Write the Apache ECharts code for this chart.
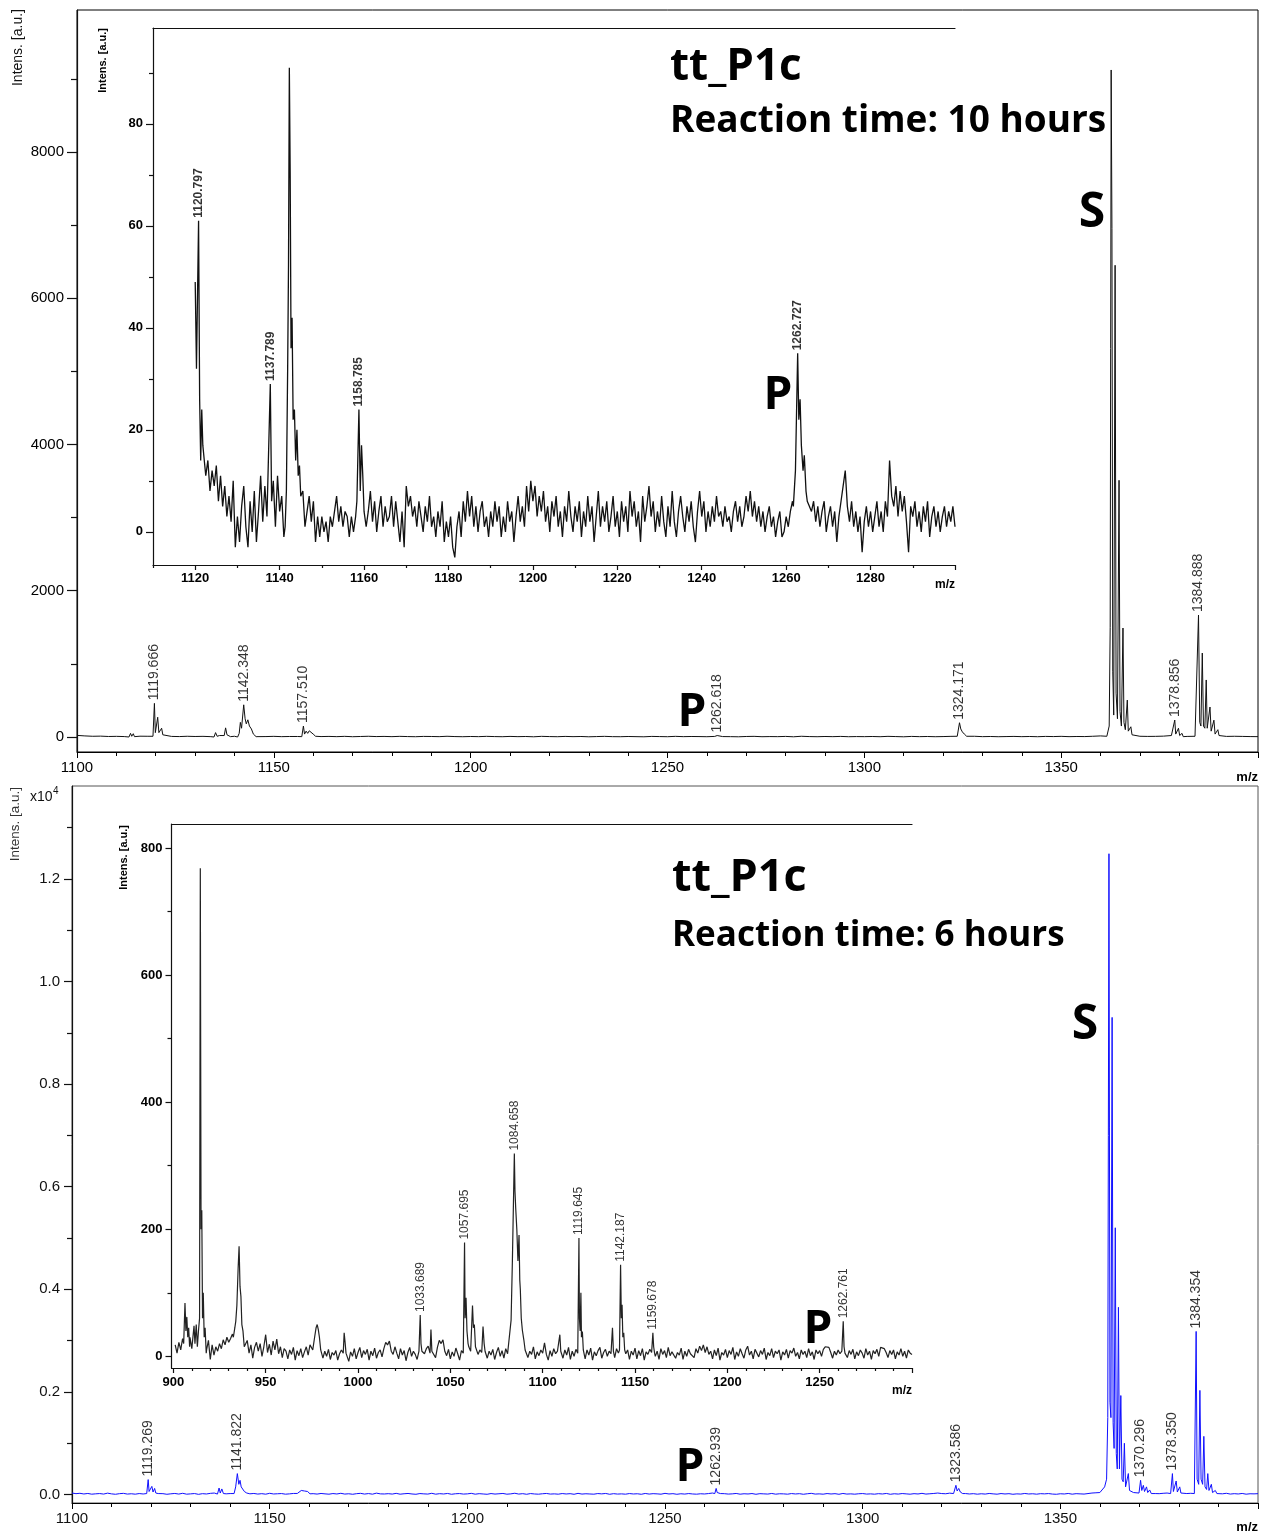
<!DOCTYPE html>
<html>
<head>
<meta charset="utf-8">
<script src="https://cdn.jsdelivr.net/npm/echarts@6/dist/echarts.min.js"></script>
<style>
  html, body { margin: 0; padding: 0; background: #fff; }
  #chart { width: 1262px; height: 1532px; }
</style>
</head>
<body>
<div id="chart"></div>
<script>
// ---------- 10 h spectrum, full range (baseline samples + peak profiles) ----------
const topMainStart = 1100, topMainStep = 2;
const topMainNoise = [
  22,15,10,12,7,9,6,8,11,10,
  40,12,8,6,10,7,9,5,8,12,
  10,30,40,8,6,9,5,7,7,20,
  12,6,8,5,9,4,7,10,6,8,
  5,9,6,4,8,7,5,10,6,4,
  7,5,9,6,4,8,5,7,3,9,
  6,4,8,5,7,3,6,9,5,4,
  7,5,3,8,6,4,9,5,7,6,
  4,8,6,5,3,7,9,4,6,5,
  8,3,10,6,4,7,5,8,4,6,
  5,7,4,9,6,3,8,5,7,4,
  6,9,8,14,10,5,7,4,6,8,
  5,7,4,8,6,9,5,7,6,10,
  15,30,40,60,30,10,8,9,12,20,
  25,8,10,20,60,30,8,10,8,6,
  5
];
const topMainPeaks = [
  [[1113.2,0],[1113.6,50],[1113.9,10],[1114.3,45],[1114.6,5]],
  [[1119.3,10],[1119.666,460],[1119.9,60],[1120.2,40],[1120.5,270],[1120.8,60],[1121.1,50],[1121.5,120],[1121.8,30],[1122.2,5]],
  [[1134.8,0],[1135.2,60],[1135.6,10],[1136.2,20],[1137.4,20],[1137.75,125],[1138.1,30],[1138.6,50],[1139.0,5]],
  [[1140.8,0],[1141.2,50],[1141.5,200],[1141.8,120],[1142.348,440],[1142.7,250],[1143.0,180],[1143.4,235],[1143.8,150],[1144.3,110],[1144.8,40],[1145.5,5]],
  [[1157.1,5],[1157.51,150],[1157.8,40],[1158.2,80],[1158.6,50],[1159.0,85],[1159.5,60],[1160.0,40],[1160.6,10]],
  [[1262.3,0],[1262.618,20],[1262.9,0]],
  [[1323.6,10],[1324.171,195],[1324.5,110],[1324.9,70],[1325.4,40],[1326.0,10]],
  [[1361.6,10],[1362.2,150],[1362.45,1500],[1362.7,9120],[1362.9,6950],[1363.1,900],[1363.35,300],[1363.7,6450],[1363.95,600],[1364.3,250],[1364.7,3510],[1364.95,350],[1365.3,150],[1365.7,1490],[1365.95,200],[1366.3,100],[1366.8,505],[1367.05,80],[1367.3,60],[1367.7,140],[1368.0,30],[1368.5,10]],
  [[1378.5,5],[1378.856,232],[1379.1,40],[1379.5,20],[1379.8,120],[1380.1,20],[1380.7,50],[1381.0,5]],
  [[1384.4,10],[1384.888,1668],[1385.2,200],[1385.5,150],[1385.85,1148],[1386.15,150],[1386.5,120],[1386.85,780],[1387.1,120],[1387.45,100],[1387.8,410],[1388.1,80],[1388.45,60],[1388.8,230],[1389.1,40],[1389.5,30],[1389.8,100],[1390.1,20],[1390.6,5]]
];
const topMainLabels = [1119.666, 1142.348, 1157.51, 1262.618, 1324.171, 1378.856, 1384.888];

// ---------- 10 h spectrum, zoomed low-intensity region ----------
const topInsetStart = 1122, topInsetStep = 0.5;
const topInsetNoise = [
  17,11,14,8,12,9,13,6,11,5,9,3,7,2,10,-3,3,-2,5,9,
  1,-3,6,0,8,-2,4,11,2,9,3,10,8,10,1,11,4,7,-1,6,
  40,60,35,24,20,12,8,7,1,4,7,2,6,-2,3,-1,3,0,2,-2,
  3,1,4,7,2,5,1,4,3,-1,3,0,3,10,20,16,5,1,4,8,
  2,6,0,4,7,1,5,2,3,7,1,6,2,-2,4,-3,9,5,7,3,
  5,1,6,3,0,5,2,7,1,3,-1,4,1,6,-2,2,-1,3,-3,-5,
  1,4,-1,6,2,8,3,7,1,5,0,4,6,1,3,-1,4,1,6,2,
  5,-1,3,0,6,2,4,-2,3,7,2,5,1,9,4,10,6,9,3,7,
  4,8,2,5,0,6,3,7,1,4,-1,5,2,8,3,0,5,2,6,-1,
  4,1,7,2,5,-2,3,8,1,5,2,6,0,3,7,1,4,-1,6,2,
  5,0,8,3,6,1,4,-2,7,2,5,9,3,6,0,4,1,7,2,-1,
  5,1,8,2,-1,4,7,3,0,5,2,6,1,-2,4,8,3,6,0,4,
  1,5,2,7,3,4,1,5,2,3,0,4,6,2,5,1,3,7,4,8,
  3,6,2,5,1,4,0,3,5,1,3,-1,2,4,-1,0,3,1,4,6,
  20,30,25,18,14,15,8,5,4,6,2,5,1,4,6,0,3,5,1,4,
  -2,3,6,9,12,5,2,6,1,4,0,3,-4,2,5,1,4,0,3,6,
  1,4,0,6,3,14,7,5,9,3,8,4,7,2,-4,5,3,6,1,4,
  0,5,2,6,-1,3,5,1,4,0,3,5,1,4,2,5,1
];
const topInsetPeaks = [
  [[1120.0,49],[1120.3,32],[1120.797,61],[1121.05,26],[1121.3,14],[1121.55,24],[1121.8,17]],
  [[1137.4,3],[1137.789,29],[1138.1,6]],
  [[1141.3,1],[1141.6,8],[1141.9,32],[1142.1,52],[1142.3,91],[1142.5,70],[1142.7,36],[1142.95,42],[1143.2,22],[1143.5,24],[1143.8,14],[1144.1,20],[1144.4,11],[1144.7,13],[1145.0,7],[1145.5,8],[1146.0,1]],
  [[1158.3,6],[1158.785,24],[1159.1,8],[1159.4,17],[1159.7,11],[1160.0,4]],
  [[1261.7,5],[1262.2,12],[1262.727,35],[1263.0,22],[1263.3,26],[1263.6,17],[1264.0,12],[1264.3,15],[1264.7,8],[1265.0,6]]
];
const topInsetLabels = [1120.797, 1137.789, 1158.785, 1262.727];

// ---------- 6 h spectrum, full range ----------
const lowMainStart = 1100, lowMainStep = 1;
const lowMainNoise = [
  30,18,25,12,22,8,15,20,10,28,14,6,18,24,10,16,8,20,12,30,
  40,20,12,18,6,15,22,10,25,8,14,20,5,18,12,24,30,60,50,15,
  20,100,300,200,40,15,22,10,18,8,25,12,16,20,8,14,22,22,80,70,
  30,18,10,22,14,8,20,12,25,10,16,6,18,24,10,20,8,28,14,12,
  18,10,24,8,16,22,12,6,20,14,10,25,8,18,12,22,6,16,20,10,
  14,24,8,18,12,6,20,10,16,22,8,14,26,10,18,6,20,12,8,16,
  22,10,14,8,20,12,18,6,24,10,16,12,8,20,14,22,6,18,10,14,
  8,20,12,16,6,22,10,18,14,8,24,12,18,6,16,10,20,12,8,16,
  12,20,30,80,40,18,10,14,22,8,16,12,20,6,18,14,10,22,8,16,
  14,8,20,12,18,6,16,24,10,14,8,20,12,18,6,22,10,14,8,16,
  20,10,14,8,18,12,22,6,16,10,20,14,8,18,12,24,10,16,22,30,
  20,16,28,20,120,40,20,12,18,8,16,10,22,14,8,20,12,18,6,14,
  10,22,12,16,8,18,14,20,10,6,16,12,22,8,18,14,10,20,30,35,
  40,600,8000,6000,3000,1500,600,300,100,40,200,150,90,30,20,18,25,30,200,150,
  100,30,20,25,1000,1500,800,300,150,60,20,15,25,10,18,12,22,8,16,14,
  18
];
const lowMainPeaks = [
  [[1118.9,20],[1119.269,292],[1119.5,60],[1119.8,40],[1120.2,160],[1120.5,50],[1120.9,120],[1121.2,30],[1121.8,20]],
  [[1136.8,10],[1137.2,128],[1137.5,30],[1137.9,110],[1138.3,20]],
  [[1141.0,20],[1141.4,150],[1141.822,409],[1142.2,200],[1142.5,278],[1142.8,150],[1143.2,136],[1143.6,60],[1144.2,30]],
  [[1157.5,20],[1158.0,80],[1158.4,97],[1158.8,70],[1159.2,95],[1159.6,60],[1160.2,15]],
  [[1262.6,20],[1262.939,120],[1263.2,40],[1263.6,70],[1264.0,20]],
  [[1323.2,20],[1323.586,181],[1323.9,70],[1324.3,120],[1324.7,50],[1325.3,20]],
  [[1360.5,40],[1361.2,150],[1361.7,300],[1362.0,1500],[1362.3,12490],[1362.55,1800],[1362.8,1500],[1363.1,9300],[1363.35,1400],[1363.6,900],[1363.9,5200],[1364.15,800],[1364.4,500],[1364.7,3650],[1364.95,500],[1365.3,1930],[1365.6,300],[1365.9,250],[1366.2,1000],[1366.5,150],[1366.9,120],[1367.2,410],[1367.5,80],[1368.0,60],[1368.5,40]],
  [[1369.9,30],[1370.296,278],[1370.6,80],[1371.0,180],[1371.3,60],[1371.8,150],[1372.1,40],[1372.6,90],[1373.0,20]],
  [[1377.9,20],[1378.35,409],[1378.6,60],[1379.0,40],[1379.3,265],[1379.6,50],[1380.2,150],[1380.5,30],[1381.0,20]],
  [[1383.9,20],[1384.354,3180],[1384.6,300],[1385.0,200],[1385.3,2031],[1385.6,300],[1386.0,200],[1386.3,1135],[1386.6,150],[1387.0,100],[1387.3,409],[1387.6,80],[1388.0,60],[1388.2,200],[1388.5,40],[1389.2,80],[1389.6,20]]
];
const lowMainLabels = [1119.269, 1141.822, 1262.939, 1323.586, 1370.296, 1378.35, 1384.354];

// ---------- 6 h spectrum, zoomed low-intensity region ----------
const lowInsetStart = 901, lowInsetStep = 1;
const lowInsetNoise = [
  18,5,22,10,28,60,45,55,30,12,
  40,35,30,400,200,80,40,10,25,-5,
  18,2,15,8,20,12,26,18,30,22,
  28,35,50,80,150,120,60,20,12,25,
  5,18,-3,14,22,8,20,0,15,34,
  6,19,2,24,10,27,4,15,-2,12,
  8,-4,10,3,14,-6,9,1,12,-2,
  7,15,2,18,20,35,45,48,30,10,
  -3,8,0,11,-5,6,2,9,-6,4,
  10,25,30,5,-8,7,0,12,-4,6,
  14,-2,9,3,11,-6,8,1,13,-3,
  6,10,-1,12,22,18,24,8,3,15,
  5,-4,12,2,9,-7,6,14,0,8,
  3,-5,8,55,10,4,12,16,30,6,
  9,-2,14,25,20,26,8,1,11,-4,
  7,0,13,4,-6,9,5,120,60,15,
  8,70,45,12,3,10,6,25,5,-3,
  8,2,11,-5,6,14,0,9,-3,12,
  4,10,57,250,250,200,180,100,40,20,
  12,-2,8,3,15,-4,7,1,10,5,
  21,3,-6,9,0,12,4,8,25,6,
  -3,10,2,14,-5,8,0,11,5,80,
  35,8,-4,10,2,13,-6,7,1,9,
  14,-3,6,11,0,8,4,20,-2,12,
  5,100,70,25,4,10,-5,8,2,13,
  -4,9,1,12,-6,7,3,11,6,10,
  0,8,-5,12,3,9,-2,14,1,7,
  10,-3,6,2,13,-5,8,0,11,4,
  7,-2,12,5,16,9,18,6,15,3,
  8,-4,10,1,13,-6,6,2,11,-2,
  9,3,14,-5,7,0,12,4,-3,10,
  16,2,8,-4,11,5,-1,9,3,13,
  -5,6,1,12,-2,8,4,10,-6,7,
  2,11,-3,9,5,13,0,6,-4,10,
  3,8,-2,12,1,7,-5,10,4,9,
  0,11,15,18,14,6,-3,8,2,10,
  4,8,15,6,-2,9,3,11,-4,7,
  1,10,5,-3,12,2,8,-5,9,4,
  11,0,14,16,12,6,-2,9,3,10,
  -4,7,2,12,0,8,-3,10,5,3
];
const lowInsetPeaks = [
  [[905.6,20],[906.3,84],[906.8,40],[907.3,62],[907.8,30],[908.3,45],[908.8,15]],
  [[910.5,10],[911.2,48],[911.7,20],[912.4,50],[913.0,15],[913.6,40],[914.2,60],[914.6,768],[915.0,200],[915.4,230],[915.8,60],[916.2,100],[916.7,30],[917.2,45],[917.8,5]],
  [[932.5,30],[933.3,45],[933.8,55],[934.4,80],[935.1,140],[935.6,173],[936.1,110],[936.6,94],[937.1,50],[937.7,40],[938.4,15]],
  [[975.5,10],[976.5,30],[977.3,45],[977.9,50],[978.5,42],[979.1,30],[979.8,10]],
  [[992.0,5],[992.5,37],[993.0,22],[993.5,5]],
  [[1033.2,5],[1033.689,65],[1034.1,20],[1034.6,8]],
  [[1039.0,5],[1039.5,42],[1040.0,8]],
  [[1057.2,5],[1057.695,179],[1058.0,60],[1058.5,92],[1059.0,40],[1059.6,20]],
  [[1061.4,10],[1062.0,80],[1062.5,45],[1063.0,50],[1063.6,15]],
  [[1067.2,5],[1067.7,47],[1068.3,20],[1068.8,8]],
  [[1082.0,5],[1082.9,57],[1083.6,150],[1084.658,319],[1085.0,260],[1085.4,233],[1086.0,200],[1086.6,150],[1087.2,191],[1087.6,120],[1087.9,105],[1088.4,60],[1089.0,41],[1089.8,26],[1090.5,10]],
  [[1108.9,5],[1109.3,34],[1109.8,8]],
  [[1119.2,8],[1119.645,186],[1119.9,60],[1120.3,40],[1120.7,100],[1121.0,30],[1121.5,39],[1122.0,10]],
  [[1137.3,5],[1137.8,45],[1138.3,8]],
  [[1141.6,10],[1142.187,144],[1142.6,60],[1143.0,81],[1143.4,30],[1143.9,37],[1144.4,10]],
  [[1159.2,5],[1159.678,37],[1160.1,15],[1160.6,5]],
  [[1262.3,5],[1262.761,55],[1263.2,15],[1263.7,5]]
];
const lowInsetLabels = [1033.689, 1057.695, 1084.658, 1119.645, 1142.187, 1159.678, 1262.761];

// ---------- tick positions ----------
const topMainYTicks = [0, 2000, 4000, 6000, 8000];
const topMainYMinor = [1000, 3000, 5000, 7000, 9000];
const topInsetXMajor = [1120, 1140, 1160, 1180, 1200, 1220, 1240, 1260, 1280, 1300];
const topInsetXLabels = [1120, 1140, 1160, 1180, 1200, 1220, 1240, 1260, 1280];
const topInsetXMinor = [1110, 1130, 1150, 1170, 1190, 1210, 1230, 1250, 1270, 1290];
const topInsetYTicks = [0, 20, 40, 60, 80];
const topInsetYMinor = [10, 30, 50, 70, 90];
const lowMainYTicks = [0, 2000, 4000, 6000, 8000, 10000, 12000];
const lowMainYMinor = [1000, 3000, 5000, 7000, 9000, 11000, 13000];
const lowInsetXMajor = [900, 950, 1000, 1050, 1100, 1150, 1200, 1250, 1300];
const lowInsetXLabels = [900, 950, 1000, 1050, 1100, 1150, 1200, 1250];
const lowInsetXMinor = [910, 920, 930, 940, 960, 970, 980, 990, 1010, 1020, 1030, 1040, 1060, 1070, 1080, 1090,
  1110, 1120, 1130, 1140, 1160, 1170, 1180, 1190, 1210, 1220, 1230, 1240, 1260, 1270, 1280, 1290];
const lowInsetYTicks = [0, 200, 400, 600, 800];
const lowInsetYMinor = [100, 300, 500, 700];

// Merge evenly spaced baseline samples with the hand-read peak profiles.
// Baseline samples that fall inside a peak profile's span are left out.
function buildTrace(start, step, noise, peaks) {
  const spans = peaks.map(p => [p[0][0], p[p.length - 1][0]]);
  const pts = [];
  noise.forEach((v, i) => {
    const x = +(start + i * step).toFixed(3);
    if (!spans.some(s => x >= s[0] && x <= s[1])) pts.push([x, v]);
  });
  peaks.forEach(p => p.forEach(q => pts.push([q[0], q[1]])));
  pts.sort((a, b) => a[0] - b[0]);
  return pts;
}
// Label anchors are the trace vertices with the annotated m/z.
function labelPoints(trace, mzList) {
  return mzList.map(m => trace.find(p => p[0] === m)).filter(Boolean);
}

const topMainTrace = buildTrace(topMainStart, topMainStep, topMainNoise, topMainPeaks);
const topInsetTrace = buildTrace(topInsetStart, topInsetStep, topInsetNoise, topInsetPeaks);
const lowMainTrace = buildTrace(lowMainStart, lowMainStep, lowMainNoise, lowMainPeaks);
const lowInsetTrace = buildTrace(lowInsetStart, lowInsetStep, lowInsetNoise, lowInsetPeaks);

const FONT = 'Liberation Sans';
const plain = v => String(v);

function labelSeries(xi, yi, pts, size, weight, color) {
  return {
    type: 'scatter', xAxisIndex: xi, yAxisIndex: yi, data: pts,
    symbol: 'circle', symbolSize: 0, silent: true, z: 5,
    label: {
      show: true, position: 'top', distance: 3, rotate: 90,
      align: 'left', verticalAlign: 'middle',
      formatter: p => p.value[0].toFixed(3),
      fontFamily: FONT, fontSize: size, fontWeight: weight, color: color
    }
  };
}
function traceSeries(xi, yi, pts, color, width) {
  return {
    type: 'line', xAxisIndex: xi, yAxisIndex: yi, data: pts,
    symbol: 'none', showSymbol: false, silent: true, sampling: null,
    lineStyle: { color: color, width: width }, z: 3
  };
}
const noSplit = { show: false };

function xMain(grid, color) {
  return {
    type: 'value', gridIndex: grid, position: 'bottom', min: 1100, max: 1400, interval: 50,
    axisLine: { onZero: false, lineStyle: { color: '#000', width: 1 } },
    axisTick: { length: 6, lineStyle: { color: '#000' } },
    minorTick: { show: true, splitNumber: 5, length: 4, lineStyle: { color: '#000' } },
    axisLabel: { showMaxLabel: false, margin: 8, fontSize: 15, fontFamily: FONT, color: color, formatter: plain },
    splitLine: noSplit, minorSplitLine: noSplit
  };
}
function customAxis(grid, pos, min, max, ticks, labels, tickLen, lineOn, lab) {
  return {
    type: 'value', gridIndex: grid, position: pos, min: min, max: max,
    axisLine: { show: lineOn, onZero: false, lineStyle: { color: '#111', width: 1.2 } },
    axisTick: { show: ticks.length > 0, customValues: ticks, length: tickLen, lineStyle: { color: '#111', width: 1.2 } },
    axisLabel: labels ? Object.assign({ customValues: labels, fontFamily: FONT, color: '#000', formatter: plain }, lab) : { show: false },
    splitLine: noSplit
  };
}

const option = {
  animation: false,
  backgroundColor: '#fff',
  grid: [
    { left: 77, top: 10, width: 1181, height: 742, show: true, borderColor: '#000', borderWidth: 1, backgroundColor: 'transparent', containLabel: false, outerBoundsMode: 'none' },
    { left: 153, top: 28, width: 802, height: 537, show: false, containLabel: false, outerBoundsMode: 'none' },
    { left: 72, top: 786, width: 1186, height: 717, show: true, borderColor: '#555', borderWidth: 1, backgroundColor: 'transparent', containLabel: false, outerBoundsMode: 'none' },
    { left: 171.5, top: 824, width: 740.5, height: 544, show: false, containLabel: false, outerBoundsMode: 'none' }
  ],
  xAxis: [
    xMain(0, '#000'),
    customAxis(1, 'bottom', 1110, 1300, topInsetXMajor, topInsetXLabels, 5, true, { fontSize: 13, fontWeight: 'bold', margin: 7 }),
    customAxis(1, 'bottom', 1110, 1300, topInsetXMinor, null, 3, false),
    customAxis(1, 'top', 1110, 1300, [], null, 0, true),
    xMain(2, '#111'),
    customAxis(3, 'bottom', 899, 1300, lowInsetXMajor, lowInsetXLabels, 5, true, { fontSize: 13, fontWeight: 'bold', margin: 8 }),
    customAxis(3, 'bottom', 899, 1300, lowInsetXMinor, null, 3, false),
    customAxis(3, 'top', 899, 1300, [], null, 0, true)
  ],
  yAxis: [
    customAxis(0, 'left', -205, 9940, topMainYTicks, topMainYTicks, 10, true, { fontSize: 15, margin: 13 }),
    customAxis(0, 'left', -205, 9940, topMainYMinor, null, 6, false),
    customAxis(1, 'left', -6.5, 98.8, topInsetYTicks, topInsetYTicks, 7, true, { fontSize: 13, fontWeight: 'bold', margin: 10 }),
    customAxis(1, 'left', -6.5, 98.8, topInsetYMinor, null, 4, false),
    customAxis(2, 'left', -164, 13810, lowMainYTicks, lowMainYTicks, 8, true,
      { fontSize: 15, margin: 12, color: '#111', formatter: v => (v / 10000).toFixed(1) }),
    customAxis(2, 'left', -164, 13810, lowMainYMinor, null, 5, false),
    customAxis(3, 'left', -18.4, 837.7, lowInsetYTicks, lowInsetYTicks, 6, true, { fontSize: 13, fontWeight: 'bold', margin: 9 }),
    customAxis(3, 'left', -18.4, 837.7, lowInsetYMinor, null, 4, false)
  ],
  series: [
    traceSeries(0, 0, topMainTrace, '#111', 1),
    labelSeries(0, 0, labelPoints(topMainTrace, topMainLabels), 14, 'normal', '#000'),
    traceSeries(1, 2, topInsetTrace, '#111', 1.3),
    labelSeries(1, 2, labelPoints(topInsetTrace, topInsetLabels), 12, 'bold', '#000'),
    traceSeries(4, 4, lowMainTrace, '#1010ff', 1),
    labelSeries(4, 4, labelPoints(lowMainTrace, lowMainLabels), 14, 'normal', '#000'),
    traceSeries(5, 6, lowInsetTrace, '#222', 1.2),
    labelSeries(5, 6, labelPoints(lowInsetTrace, lowInsetLabels), 12, 'normal', '#000')
  ],
  graphic: [
    // axis titles
    { type: 'text', x: 18, y: 9, rotation: Math.PI / 2, style: { text: 'Intens. [a.u.]', font: '14px "Liberation Sans"', fill: '#111', align: 'right', verticalAlign: 'middle' } },
    { type: 'text', x: 103, y: 28, rotation: Math.PI / 2, style: { text: 'Intens. [a.u.]', font: 'bold 11px "Liberation Sans"', fill: '#000', align: 'right', verticalAlign: 'middle' } },
    { type: 'text', x: 15, y: 787, rotation: Math.PI / 2, style: { text: 'Intens. [a.u.]', font: '13.5px "Liberation Sans"', fill: '#333', align: 'right', verticalAlign: 'middle' } },
    { type: 'text', x: 124, y: 825, rotation: Math.PI / 2, style: { text: 'Intens. [a.u.]', font: 'bold 11px "Liberation Sans"', fill: '#000', align: 'right', verticalAlign: 'middle' } },
    { type: 'text', x: 1258, y: 777, style: { text: 'm/z', font: 'bold 13px "Liberation Sans"', fill: '#000', align: 'right', verticalAlign: 'middle' } },
    { type: 'text', x: 955, y: 585, style: { text: 'm/z', font: 'bold 12px "Liberation Sans"', fill: '#000', align: 'right', verticalAlign: 'middle' } },
    { type: 'text', x: 1258, y: 1527, style: { text: 'm/z', font: 'bold 13px "Liberation Sans"', fill: '#000', align: 'right', verticalAlign: 'middle' } },
    { type: 'text', x: 912, y: 1391, style: { text: 'm/z', font: 'bold 12px "Liberation Sans"', fill: '#000', align: 'right', verticalAlign: 'middle' } },
    { type: 'text', x: 30, y: 797, style: { text: 'x10', font: '14px "Liberation Sans"', fill: '#111', align: 'left', verticalAlign: 'middle' } },
    { type: 'text', x: 53, y: 791, style: { text: '4', font: '10px "Liberation Sans"', fill: '#111', align: 'left', verticalAlign: 'middle' } },
    // sample titles
    { type: 'text', x: 670, y: 67, style: { text: 'tt_P1c', font: 'bold 44px "Open Sans"', fill: '#000', align: 'left', verticalAlign: 'middle' } },
    { type: 'text', x: 670, y: 121, style: { text: 'Reaction time: 10 hours', font: 'bold 37px "Open Sans"', fill: '#000', align: 'left', verticalAlign: 'middle' } },
    { type: 'text', x: 672, y: 878, style: { text: 'tt_P1c', font: 'bold 45px "Open Sans"', fill: '#000', align: 'left', verticalAlign: 'middle' } },
    { type: 'text', x: 672, y: 936, style: { text: 'Reaction time: 6 hours', font: 'bold 35px "Open Sans"', fill: '#000', align: 'left', verticalAlign: 'middle' } },
    // S = starting material, P = product
    { type: 'text', x: 1092, y: 213, style: { text: 'S', font: 'bold 48px "Open Sans"', fill: '#000', align: 'center', verticalAlign: 'middle' } },
    { type: 'text', x: 1085, y: 1025, style: { text: 'S', font: 'bold 48px "Open Sans"', fill: '#000', align: 'center', verticalAlign: 'middle' } },
    { type: 'text', x: 692, y: 713, style: { text: 'P', font: 'bold 46px "Open Sans"', fill: '#000', align: 'center', verticalAlign: 'middle' } },
    { type: 'text', x: 778, y: 396, style: { text: 'P', font: 'bold 46px "Open Sans"', fill: '#000', align: 'center', verticalAlign: 'middle' } },
    { type: 'text', x: 818, y: 1330, style: { text: 'P', font: 'bold 46px "Open Sans"', fill: '#000', align: 'center', verticalAlign: 'middle' } },
    { type: 'text', x: 690, y: 1468, style: { text: 'P', font: 'bold 46px "Open Sans"', fill: '#000', align: 'center', verticalAlign: 'middle' } }
  ]
};

const chart = echarts.init(document.getElementById('chart'), null, { renderer: 'canvas' });
chart.setOption(option);
</script>
</body>
</html>
